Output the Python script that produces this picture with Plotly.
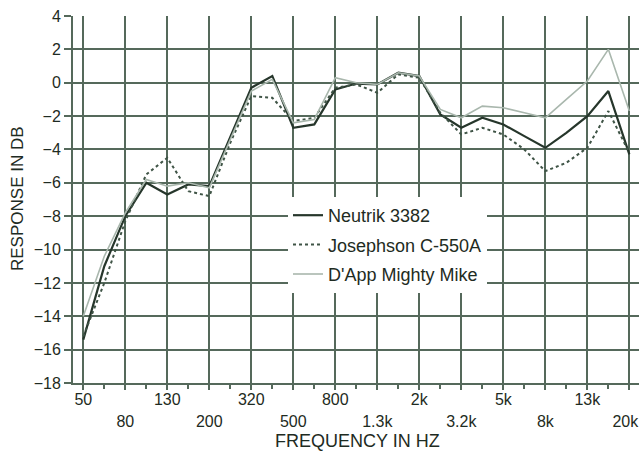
import plotly.graph_objects as go

# 1/3-octave band index positions (0 = 50 Hz ... 26 = 20 kHz)
band_index = list(range(27))
band_freqs = ["50", "63", "80", "100", "125", "160", "200", "250", "315", "400", "500",
              "630", "800", "1k", "1.25k", "1.6k", "2k", "2.5k", "3.15k", "4k", "5k",
              "6.3k", "8k", "10k", "12.5k", "16k", "20k"]

neutrik = [-15.4, -11.0, -8.0, -6.0, -6.7, -6.1, -6.2, -3.3, -0.3, 0.4, -2.7, -2.5, -0.4,
           -0.05, -0.1, 0.6, 0.4, -1.9, -2.7, -2.1, -2.5, -3.2, -3.9, -3.0, -2.0, -0.5, -4.3]
josephson = [-15.2, -12.0, -8.3, -5.5, -4.5, -6.5, -6.8, -3.6, -0.8, -0.9, -2.3, -2.1, -0.3,
             -0.1, -0.6, 0.5, 0.3, -1.8, -3.1, -2.7, -3.1, -4.0, -5.3, -4.8, -3.9, -1.7, -4.2]
dapp = [-14.0, -10.4, -7.8, -5.8, -6.2, -6.0, -6.3, -3.4, -0.5, 0.2, -2.4, -2.2, 0.3,
        0.0, -0.1, 0.6, 0.4, -1.6, -2.1, -1.4, -1.5, -1.8, -2.1, -1.0, 0.1, 2.0, -1.7]

upper_tick_pos = [0, 4, 8, 12, 16, 20, 24]
upper_tick_text = ["50", "130", "320", "800", "2k", "5k", "13k"]
lower_tick_pos = [2, 6, 10, 14, 18, 22]
lower_tick_text = ["80", "200", "500", "1.3k", "3.2k", "8k"]
edge_tick_pos = [26]
edge_tick_text = ["20k"]
grid_pos = list(range(0, 27, 2))
y_ticks = list(range(-18, 5, 2))

TXT = "#1e2b22"
GRID = "#55695b"
FONT = "Liberation Sans, Arial, sans-serif"

W, H = 639, 452
ML, MT, MB, MR = 73, 16, 69, 0
pw, ph = W - ML - MR, H - MT - MB


def px_to_paper(xp, yp):
    """page pixel -> paper coordinates"""
    return (xp - ML) / pw, (H - MB - yp) / ph


fig = go.Figure()
fig.add_trace(go.Scatter(x=band_index, y=neutrik, mode="lines", name="Neutrik 3382",
                         legendgroup="a", line=dict(color="#26362b", width=2.2)))
fig.add_trace(go.Scatter(x=band_index, y=josephson, mode="lines", name="Josephson C-550A",
                         legendgroup="b", line=dict(color="#3f5446", width=2, dash="dot")))
fig.add_trace(go.Scatter(x=band_index, y=dapp, mode="lines", name="D'App Mighty Mike",
                         legendgroup="c", line=dict(color="#a9b7ad", width=1.6)))

lx, ly = px_to_paper(288, 197)
tx1, ty1 = px_to_paper(17, 199)
tx2, ty2 = px_to_paper(357, 441)

xr = [-0.49, 26.46]
lower_axis_common = dict(range=xr, overlaying="x", side="bottom", anchor="y", tickmode="array",
                         showgrid=False, showline=False, ticks="", ticklabelstandoff=27,
                         automargin=False, ticklabeloverflow="allow",
                         tickfont=dict(size=16, color=TXT), zeroline=False)
fig.update_layout(
    width=W, height=H,
    margin=dict(l=ML, r=MR, t=MT, b=MB, autoexpand=False),
    paper_bgcolor="white", plot_bgcolor="white",
    font=dict(family=FONT, color=TXT, size=16),
    showlegend=True,
    legend=dict(x=lx, y=ly, xanchor="left", yanchor="top",
                bgcolor="white", borderwidth=0, tracegroupgap=3,
                font=dict(family=FONT, size=18, color=TXT)),
    xaxis=dict(range=xr, tickmode="array", tickvals=grid_pos, automargin=False,
               ticktext=[upper_tick_text[upper_tick_pos.index(p)] if p in upper_tick_pos else ""
                         for p in grid_pos],
               showgrid=True, gridcolor=GRID, gridwidth=2,
               showline=True, linecolor=GRID, linewidth=2,
               ticks="outside", ticklen=5, tickcolor=GRID, tickwidth=1.5,
               ticklabelstandoff=-4,
               minor=dict(tickvals=[i for i in band_index if i % 2 == 1], ticks="outside",
                          ticklen=4, tickcolor=GRID, showgrid=False),
               tickfont=dict(size=16, color=TXT), zeroline=False),
    xaxis2=dict(tickvals=lower_tick_pos, ticktext=lower_tick_text, **lower_axis_common),
    xaxis3=dict(tickvals=edge_tick_pos, ticktext=edge_tick_text, ticklabelshift=-4,
                **lower_axis_common),
    yaxis=dict(range=[-18, 4], tickmode="array", tickvals=y_ticks, automargin=False,
               showgrid=True, gridcolor=GRID, gridwidth=2,
               showline=True, linecolor=GRID, linewidth=2,
               ticks="outside", ticklen=7, tickcolor=GRID, tickwidth=1.5,
               ticklabeloverflow="allow",
               tickfont=dict(size=16, color=TXT), zeroline=False),
    annotations=[
        dict(text="RESPONSE IN DB", x=tx1, y=ty1, xref="paper", yref="paper",
             xanchor="center", yanchor="middle",
             showarrow=False, textangle=-90, font=dict(size=17, color=TXT)),
        dict(text="FREQUENCY IN HZ", x=tx2, y=ty2, xref="paper", yref="paper",
             xanchor="center", yanchor="middle",
             showarrow=False, font=dict(size=18, color=TXT)),
    ],
)
# invisible traces to activate the extra label axes
for ax in ("x2", "x3"):
    fig.add_trace(go.Scatter(x=[xr[0]], y=[-18], xaxis=ax, mode="markers",
                             marker=dict(opacity=0), showlegend=False, hoverinfo="skip"))

fig.write_html("out.html", config={"displayModeBar": False},
               post_script="document.body.style.margin='0';document.body.style.overflow='hidden';")
